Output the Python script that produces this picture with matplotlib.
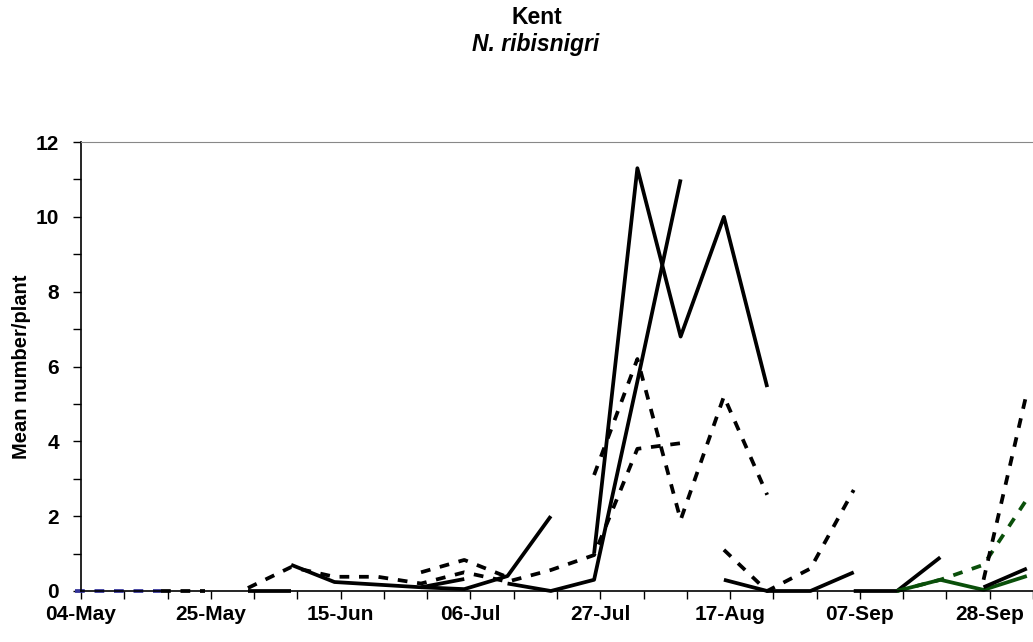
import matplotlib
matplotlib.use("Agg")
import matplotlib.pyplot as plt
import matplotlib.dates as mdates
import numpy as np
import pandas as pd

plt.rcParams['font.family'] = ['Liberation Sans', 'DejaVu Sans']

# weekly sampling dates (first one 03-May)
sample_dates = pd.date_range('2006-05-03', periods=23, freq='7D')

# each series: (first week index, values, colour, dashed?)
blue_start, blue_vals = 0, [0, 0, 0]
zero_d_start, zero_d_vals = 2, [0, 0]
zero_s_start, zero_s_vals = 4, [0, 0]
e_start, e_vals = 4, [0.08, 0.64, 0.38, 0.38, 0.2, 0.5, 0.25, 0.56, 0.96, 3.8, 3.95]
f_start, f_vals = 8, [0.5, 0.83, 0.37]
c_start, c_vals = 5, [0.7, 0.24, 0.17, 0.1, 0.05, 0.4, 2.0]
d_start, d_vals = 8, [0.1, 0.32]
b_start, b_vals = 10, [0.2, 0.0, 0.3, 5.6, 11.0]
a_start, a_vals = 12, [1.0, 11.3, 6.8, 10.0, 5.45]
g_start, g_vals = 12, [3.1, 6.2, 1.9, 5.2, 2.57]
i_start, i_vals = 15, [1.1, 0.0, 0.6, 2.7]
j_start, j_vals = 15, [0.3, 0.0, 0.0, 0.5]
k_start, k_vals = 18, [0, 0, 0.9]
l_start, l_vals = 19, [0, 0.3, 0.03, 0.4]
o_start, o_vals = 19, [0, 0.3, 0.7, 2.45]
m_start, m_vals = 21, [0.1, 0.6]
n_start, n_vals = 21, [0.3, 5.3]

black = 'black'
green = '#0a4f0a'
navy = '#333399'
series = [
    (blue_start, blue_vals, navy, True),
    (zero_d_start, zero_d_vals, black, True),
    (zero_s_start, zero_s_vals, black, False),
    (e_start, e_vals, black, True),
    (f_start, f_vals, black, True),
    (c_start, c_vals, black, False),
    (d_start, d_vals, black, False),
    (b_start, b_vals, black, False),
    (a_start, a_vals, black, False),
    (g_start, g_vals, black, True),
    (i_start, i_vals, black, True),
    (j_start, j_vals, black, False),
    (k_start, k_vals, black, False),
    (o_start, o_vals, green, True),
    (l_start, l_vals, green, False),
    (m_start, m_vals, black, False),
    (n_start, n_vals, black, True),
]

fig = plt.figure(figsize=(10.33, 6.42), dpi=100)
ax = fig.add_axes([81/1033, 1-591/642, 1-81/1033, (591-142)/642])

for start, vals, col, dashed in series:
    xs = sample_dates[start:start+len(vals)]
    ls = (0, (2.6, 2.6)) if dashed else '-'
    ax.plot(xs, vals, color=col, lw=2.7, linestyle=ls, solid_capstyle='butt',
            dash_capstyle='butt', clip_on=False)

x0 = pd.Timestamp('2006-05-04')
ax.set_xlim(x0, x0 + pd.Timedelta(days=153.8))
ax.set_ylim(0, 12)

ax.set_xticks(pd.date_range(x0, periods=8, freq='21D'))
ax.set_xticks(pd.date_range(x0, periods=23, freq='7D'), minor=True)
ax.xaxis.set_major_formatter(mdates.DateFormatter('%d-%b'))
ax.set_yticks(np.arange(0, 13, 2))
ax.set_yticks(np.arange(1, 12, 2), minor=True)

ax.tick_params(which='both', direction='out', length=6, width=1, color='black')
ax.tick_params(axis='both', labelsize=15)
ax.tick_params(axis='y', pad=10)
ax.tick_params(axis='x', pad=4)
for lab in ax.get_xticklabels() + ax.get_yticklabels():
    lab.set_fontweight('bold')

ax.spines['right'].set_visible(False)
ax.spines['top'].set_color('#888888')
ax.spines['left'].set_linewidth(1.2)
ax.spines['bottom'].set_linewidth(1.2)

ax.set_ylabel('Mean number/plant', fontsize=14.5, fontweight='bold')
ax.yaxis.set_label_coords(-0.053, 0.5)

fig.text(537/1033, 1-17/642, 'Kent', ha='center', va='center',
         fontsize=16.5, fontweight='bold')
fig.text(536/1033, 1-45/642, 'N. ribisnigri', ha='center', va='center',
         fontsize=16.5, fontweight='bold', style='italic')

fig.savefig('out.png', dpi=100)
